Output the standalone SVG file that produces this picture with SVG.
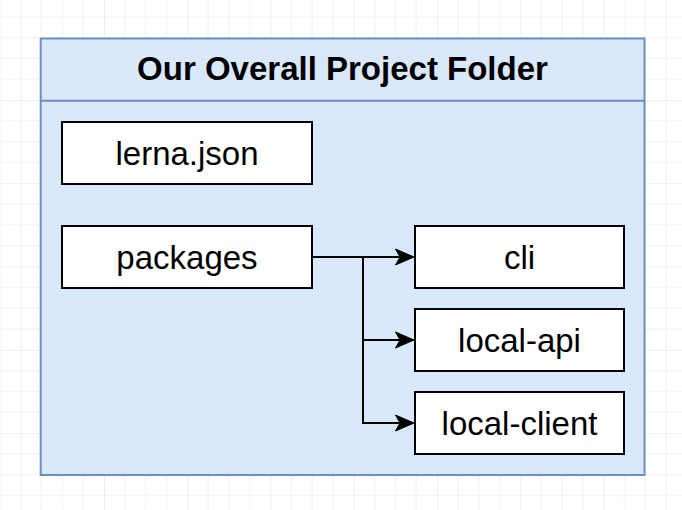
<svg xmlns="http://www.w3.org/2000/svg" xmlns:xlink="http://www.w3.org/1999/xlink" width="682" height="510" viewBox="0 0 682 510">
<style>
.box{fill:#ffffff;stroke:#000000;stroke-width:2}
.lbl{font-family:"Liberation Sans",Arial,Helvetica,sans-serif;font-size:33px;fill:#000000;text-anchor:middle}
.title{font-family:"Liberation Sans",Arial,Helvetica,sans-serif;font-size:33px;font-weight:bold;fill:#000000;text-anchor:middle}
.conn{fill:none;stroke:#000000;stroke-width:2}
.head{fill:#000000;stroke:#000000;stroke-width:1}
</style>
<defs>
<pattern id="grid" patternUnits="userSpaceOnUse" x="20.7" y="16.7" width="83.28" height="83.28">
<path d="M20.82 0V83.28M41.64 0V83.28M62.46 0V83.28M0 20.82H83.28M0 41.64H83.28M0 62.46H83.28" stroke="#f0f0f0" stroke-width="1" fill="none"/>
<path d="M0 0V83.28M0 0H83.28" stroke="#e2e2e2" stroke-width="1" fill="none"/>
</pattern>
<path id="ah" class="head" d="M-18.5 -8L0 0L-18.5 8L-14 0Z"/>
</defs>
<rect width="682" height="510" fill="#ffffff"/>
<rect width="682" height="510" fill="url(#grid)"/>
<g id="container">
<rect x="40.7" y="38.5" width="603.8" height="436.5" fill="#dae8fc" stroke="#6c8ebf" stroke-width="2"/>
<line x1="40.7" y1="100.7" x2="644.5" y2="100.7" stroke="#6c8ebf" stroke-width="2"/>
<text class="title" x="342.5" y="80">Our Overall Project Folder</text>
</g>
<g id="lerna">
<rect class="box" x="62" y="122" width="250" height="62"/>
<text class="lbl" x="187" y="164.5">lerna.json</text>
</g>
<g id="packages">
<rect class="box" x="62" y="226" width="250" height="62"/>
<text class="lbl" x="187" y="268.5">packages</text>
</g>
<g id="cli">
<rect class="box" x="415" y="226" width="209" height="62"/>
<text class="lbl" x="519.5" y="268.5">cli</text>
</g>
<g id="local-api">
<rect class="box" x="415" y="309" width="209" height="62"/>
<text class="lbl" x="519.5" y="351.5">local-api</text>
</g>
<g id="local-client">
<rect class="box" x="415" y="392" width="209" height="62"/>
<text class="lbl" x="519.5" y="434.5">local-client</text>
</g>
<g id="connectors">
<path class="conn" d="M312 257H401"/>
<path class="conn" d="M363 257V340H401"/>
<path class="conn" d="M363 340V423H401"/>
<use xlink:href="#ah" href="#ah" x="414" y="257"/>
<use xlink:href="#ah" href="#ah" x="414" y="340"/>
<use xlink:href="#ah" href="#ah" x="414" y="423"/>
</g>
</svg>
